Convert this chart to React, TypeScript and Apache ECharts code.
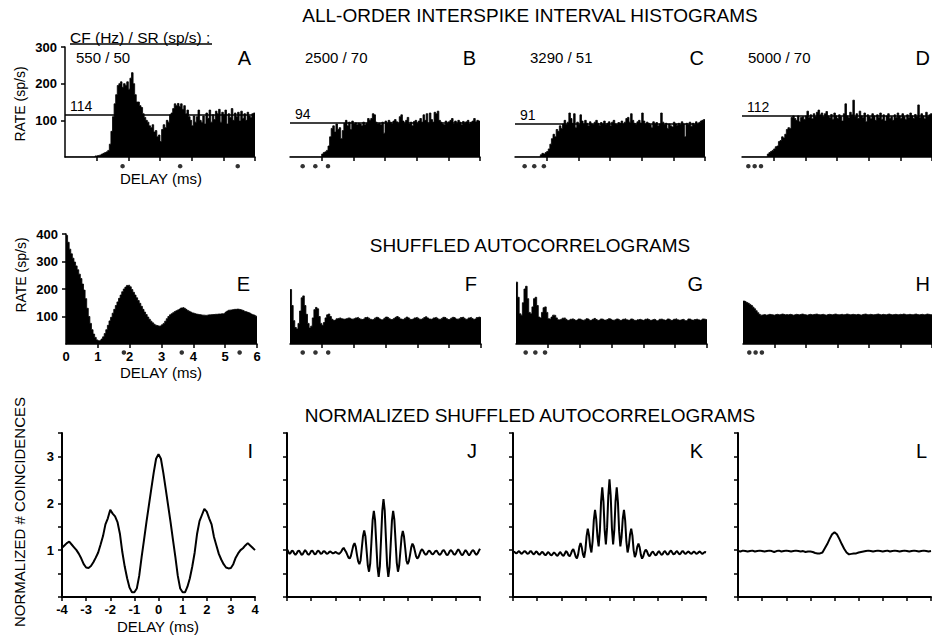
import React, { useEffect, useRef } from "react";
import * as echarts from "echarts";

const FONT = '"Liberation Sans", Arial, Helvetica, sans-serif';

// Fibre characteristics: CF (Hz) / spontaneous rate (sp/s) and mean ISI rate
const cfHz = [550, 2500, 3290, 5000];
const srSps = [50, 70, 51, 70];
const meanRate = [114, 94, 91, 112];
const panelLetters = [
  ["A", "B", "C", "D"],
  ["E", "F", "G", "H"],
  ["I", "J", "K", "L"],
];

const delayTicks = [1, 2, 3, 4, 5, 6];
const rateTicks = [100, 200, 300];
const sacRateTicks = [100, 200, 300, 400];
const coincidenceLabels = [1, 2, 3];

// All-order interspike interval histograms and shuffled autocorrelograms:
// 0.05 ms bins from 0 to 6 ms (sp/s)
const BIN = 0.05;
const isiA = [
  0, 0, 0, 0, 0, 0, 0, 0, 0, 0,
  0, 0, 0, 0, 0, 0, 0, 0, 0, 3,
  4, 5, 6, 8, 10, 12, 14, 18, 35, 70,
  110, 145, 170, 195, 200, 205, 190, 200, 195, 205,
  185, 215, 230, 200, 170, 150, 150, 140, 135, 118,
  108, 100, 95, 85, 80, 88, 68, 72, 55, 60,
  42, 75, 88, 80, 100, 95, 115, 120, 132, 145,
  140, 146, 138, 145, 130, 140, 118, 128, 110, 100,
  85, 112, 95, 110, 128, 100, 95, 112, 90, 120,
  105, 128, 95, 115, 102, 125, 118, 130, 95, 122,
  115, 128, 90, 118, 108, 132, 100, 120, 110, 122,
  98, 125, 105, 118, 100, 122, 112, 108, 118, 120,
];
const isiB = [
  0, 0, 0, 0, 0, 0, 0, 0, 0, 0,
  0, 0, 0, 0, 0, 0, 0, 0, 0, 0,
  8, 12, 14, 18, 30, 55, 78, 85, 68, 90,
  75, 80, 50, 72, 92, 100, 85, 95, 75, 98,
  90, 93, 88, 92, 90, 85, 95, 88, 92, 105,
  100, 105, 118, 115, 95, 90, 92, 88, 95, 65,
  98, 92, 100, 95, 90, 98, 102, 96, 92, 110,
  115, 98, 92, 100, 108, 90, 95, 85, 97, 100,
  92, 98, 105, 95, 115, 100, 118, 92, 120, 102,
  95, 122, 118, 125, 100, 95, 90, 88, 98, 92,
  96, 100, 105, 90, 98, 92, 100, 95, 88, 97,
  92, 96, 100, 90, 95, 98, 105, 96, 100, 98,
];
const isiC = [
  0, 0, 0, 0, 0, 0, 0, 0, 0, 0,
  0, 0, 0, 0, 0, 0, 6, 10, 8, 12,
  15, 22, 35, 50, 62, 55, 75, 70, 85, 78,
  90, 100, 88, 95, 120, 105, 92, 118, 80, 95,
  88, 115, 98, 90, 100, 92, 85, 96, 90, 88,
  95, 100, 92, 86, 94, 90, 98, 88, 92, 96,
  85, 95, 100, 90, 88, 94, 92, 98, 90, 95,
  105, 108, 95, 118, 100, 92, 88, 96, 100, 93,
  120, 98, 90, 95, 92, 88, 80, 96, 90, 94,
  85, 90, 120, 95, 88, 92, 78, 90, 85, 82,
  95, 90, 86, 92, 88, 96, 90, 55, 92, 88,
  95, 84, 92, 88, 96, 90, 94, 98, 100, 102,
];
const isiD = [
  0, 0, 0, 0, 0, 0, 0, 0, 0, 0,
  0, 0, 0, 0, 0, 0, 8, 12, 15, 18,
  22, 28, 30, 42, 45, 55, 52, 62, 75, 80,
  78, 108, 112, 105, 100, 112, 96, 108, 110, 102,
  112, 125, 108, 115, 104, 118, 110, 122, 128, 115,
  120, 110, 118, 124, 112, 108, 116, 102, 120, 112,
  105, 115, 110, 98, 118, 145, 112, 108, 122, 115,
  155, 110, 118, 105, 125, 112, 108, 120, 96, 115,
  110, 104, 118, 112, 100, 115, 108, 120, 102, 115,
  98, 112, 118, 105, 110, 100, 115, 108, 120, 112,
  105, 118, 110, 102, 115, 108, 120, 112, 105, 116,
  110, 142, 108, 118, 112, 104, 122, 110, 115, 118,
];

const sacE = [
  395, 370, 345, 328, 312, 298, 284, 270, 254, 238,
  218, 196, 165, 130, 100, 75, 52, 36, 24, 15,
  12, 13, 18, 26, 38, 52, 68, 84, 97, 112,
  126, 140, 153, 166, 178, 190, 200, 207, 213, 214,
  208, 198, 188, 178, 168, 158, 148, 137, 126, 116,
  107, 98, 90, 83, 77, 72, 68, 66, 65, 67,
  70, 75, 83, 92, 100, 106, 110, 114, 118, 121,
  124, 127, 131, 133, 130, 126, 122, 119, 116, 113,
  111, 109, 108, 107, 106, 105, 105, 104, 105, 106,
  106, 107, 107, 108, 108, 109, 109, 110, 110, 112,
  116, 120, 123, 124, 125, 126, 126, 127, 126, 125,
  123, 121, 118, 116, 114, 112, 109, 106, 104, 101,
];
const sacF = [
  198, 140, 85, 60, 55, 75, 120, 168, 175, 140,
  108, 75, 58, 65, 95, 125, 133, 128, 100, 75,
  68, 78, 95, 106, 109, 100, 90, 86, 88, 92,
  94, 95, 92, 90, 91, 93, 95, 94, 91, 89,
  92, 95, 97, 93, 90, 88, 91, 96, 98, 94,
  90, 88, 90, 94, 97, 95, 91, 88, 90, 94,
  98, 96, 92, 89, 90, 93, 97, 100, 96, 91,
  89, 91, 94, 98, 95, 90, 88, 91, 95, 97,
  94, 90, 89, 92, 96, 99, 95, 91, 90, 92,
  95, 97, 94, 90, 89, 93, 97, 96, 92, 89,
  91, 94, 97, 95, 91, 89, 92, 96, 98, 94,
  90, 91, 95, 97, 93, 90, 92, 96, 98, 96,
];
const sacG = [
  225, 170, 110, 105, 150, 200, 210, 165, 115, 110,
  135, 165, 170, 140, 98, 95, 115, 132, 135, 115,
  92, 90, 98, 105, 104, 95, 88, 87, 90, 94,
  95, 90, 86, 87, 90, 92, 89, 86, 88, 91,
  90, 87, 85, 88, 92, 90, 86, 87, 90, 93,
  89, 86, 88, 91, 90, 87, 86, 89, 92, 90,
  87, 85, 88, 91, 89, 86, 87, 90, 92, 88,
  86, 88, 91, 89, 86, 85, 88, 90, 88, 86,
  87, 90, 92, 89, 86, 88, 90, 88, 85, 87,
  90, 91, 88, 86, 88, 91, 89, 86, 87, 90,
  92, 88, 86, 88, 90, 88, 85, 87, 91, 90,
  87, 86, 89, 91, 88, 86, 88, 91, 90, 88,
];
const sacH = [
  156, 154, 151, 148, 144, 140, 134, 128, 121, 114,
  108, 105, 106, 107, 105, 106, 108, 107, 106, 105,
  107, 108, 106, 107, 109, 108, 106, 107, 106, 108,
  107, 105, 106, 108, 107, 106, 108, 109, 107, 106,
  105, 107, 108, 106, 107, 108, 109, 107, 106, 107,
  108, 106, 105, 107, 108, 107, 106, 108, 109, 107,
  106, 107, 108, 106, 107, 109, 108, 106, 107, 108,
  107, 106, 108, 107, 105, 107, 108, 109, 107, 106,
  108, 107, 106, 107, 108, 109, 107, 106, 108, 107,
  106, 108, 109, 107, 106, 107, 108, 107, 106, 108,
  107, 109, 108, 106, 107, 108, 107, 106, 108, 109,
  107, 106, 107, 108, 106, 107, 109, 108, 107, 106,
];

// Normalized shuffled autocorrelograms, delays from -4 ms
const nsacI = [
  1.05, 1.1, 1.15, 1.18, 1.12, 1.06, 1.0, 0.92, 0.82, 0.7,
  0.63, 0.62, 0.66, 0.74, 0.84, 0.95, 1.12, 1.3, 1.55, 1.68,
  1.86, 1.78, 1.72, 1.6, 1.35, 0.96, 0.65, 0.4, 0.2, 0.1,
  0.1, 0.18, 0.45, 0.85, 1.22, 1.6, 1.95, 2.3, 2.65, 2.95,
  3.05,
  2.95, 2.65, 2.3, 1.95, 1.6, 1.22, 0.85, 0.45, 0.18, 0.1,
  0.1, 0.22, 0.4, 0.65, 0.95, 1.35, 1.62, 1.75, 1.88, 1.82,
  1.68, 1.55, 1.28, 1.1, 0.92, 0.8, 0.7, 0.63, 0.61, 0.62,
  0.7, 0.84, 0.93, 1.0, 1.04, 1.1, 1.15, 1.1, 1.05, 1.0,
];
const nsacJ = [
  1.02, 0.97, 0.92, 0.94, 0.99, 0.98, 0.93, 0.9, 0.93, 0.98,
  0.99, 0.95, 0.9, 0.91, 0.96, 1.0, 0.97, 0.92, 0.9, 0.93,
  0.98, 0.99, 0.95, 0.91, 0.92, 0.97, 0.99, 0.96, 0.92, 0.93,
  0.97, 0.98, 0.95, 0.92, 0.93, 0.96, 0.97, 0.95, 0.93, 0.94,
  0.96, 0.95, 0.93, 0.92, 0.94, 0.97, 1.02, 1.05,
  1.0, 0.96, 0.9, 0.84, 0.82, 0.88, 0.99, 1.1, 1.15, 1.07,
  0.9, 0.76, 0.7, 0.78, 1.04, 1.3, 1.42, 1.3, 0.99, 0.67,
  0.54, 0.72, 1.18, 1.64, 1.84, 1.64, 1.15, 0.65, 0.43, 0.66,
  1.25, 1.84,
  2.09,
  1.85, 1.26, 0.67, 0.43, 0.64, 1.14, 1.63, 1.84, 1.65, 1.19,
  0.73, 0.54, 0.67, 0.98, 1.28, 1.41, 1.29, 1.04, 0.78, 0.7,
  0.76, 0.9, 1.06, 1.14, 1.09, 0.98, 0.87, 0.82, 0.85, 0.92,
  0.99, 1.02,
  0.98, 0.93, 0.9, 0.92, 0.97, 0.99, 0.96, 0.92, 0.91, 0.94,
  0.98, 0.99, 0.95, 0.91, 0.9, 0.94, 0.99, 1.0, 0.96, 0.91,
  0.89, 0.93, 0.98, 1.0, 0.97, 0.92, 0.9, 0.93, 0.98, 1.02,
  0.98, 0.93, 0.89, 0.91, 0.96, 1.0, 0.97, 0.92, 0.89, 0.92,
  0.97, 1.0, 0.98, 0.93, 0.9, 0.93, 0.98, 1.03,
];
const nsacK = [
  0.95, 0.97, 0.94, 0.93, 0.96, 0.98, 0.95, 0.92, 0.94, 0.97,
  0.98, 0.95, 0.92, 0.93, 0.97, 0.98, 0.94, 0.91, 0.93, 0.97,
  0.96, 0.92, 0.9, 0.93, 0.96, 0.95, 0.91, 0.89, 0.92, 0.96,
  0.94, 0.9, 0.89, 0.92, 0.95, 0.93, 0.89, 0.88, 0.92, 0.96,
  0.93, 0.89, 0.88, 0.93, 0.98, 0.95, 0.89, 0.87,
  0.92, 0.99, 1.02, 0.95, 0.86, 0.82, 0.91, 1.07, 1.15, 1.06,
  0.91, 0.84, 1.0, 1.3, 1.46, 1.32, 1.07, 0.95, 1.19, 1.64,
  1.86, 1.66, 1.29, 1.08, 1.41, 2.03, 2.34, 2.03, 1.42, 1.12,
  1.48, 2.15,
  2.51,
  2.16, 1.47, 1.12, 1.43, 2.04, 2.34, 2.02, 1.4, 1.08, 1.28,
  1.67, 1.86, 1.63, 1.18, 0.95, 1.08, 1.33, 1.46, 1.31, 1.0,
  0.85, 0.92, 1.07, 1.14, 1.06, 0.9, 0.82, 0.87, 0.96, 1.01,
  0.98, 0.91,
  0.87, 0.9, 0.95, 0.97, 0.93, 0.89, 0.9, 0.95, 0.98, 0.94,
  0.9, 0.91, 0.96, 0.98, 0.94, 0.9, 0.92, 0.97, 0.99, 0.95,
  0.91, 0.92, 0.96, 0.98, 0.94, 0.91, 0.93, 0.97, 0.98, 0.94,
  0.92, 0.94, 0.97, 0.96, 0.93, 0.92, 0.95, 0.97, 0.95, 0.92,
  0.93, 0.96, 0.97, 0.94, 0.92, 0.94, 0.96, 0.95,
];
const nsacL = [
  0.98, 0.97, 0.99, 0.98, 0.97, 0.98, 0.99, 0.97, 0.98, 0.99,
  0.98, 0.97, 0.98, 0.99, 0.98, 0.96, 0.98, 0.99, 0.97, 0.98,
  0.99, 0.98, 0.97, 0.98, 0.99, 0.98, 0.97, 0.98, 0.96, 0.97,
  0.97, 0.96, 0.94, 0.93, 0.93, 0.95, 1.04, 1.13, 1.24, 1.34,
  1.38,
  1.34, 1.24, 1.13, 1.03, 0.95, 0.91, 0.92, 0.93, 0.93, 0.95,
  0.96, 0.97, 0.98, 0.99, 0.98, 0.97, 0.98, 0.99, 0.98, 0.97,
  0.98, 0.99, 0.97, 0.98, 0.99, 0.98, 0.97, 0.98, 0.99, 0.98,
  0.97, 0.98, 0.99, 0.98, 0.97, 0.98, 0.99, 0.98, 0.97, 0.98,
];
const nsacSteps = [0.1, 0.05, 0.05, 0.1];

const isiSets = [isiA, isiB, isiC, isiD];
const sacSets = [sacE, sacF, sacG, sacH];
const nsacSets = [nsacI, nsacJ, nsacK, nsacL];

// Histogram bins as left-edge steps, closed at the right edge
const toSteps = (vals: number[], bin: number) => {
  const pts = vals.map((v, i) => [+(i * bin).toFixed(3), v]);
  pts.push([+(vals.length * bin).toFixed(3), vals[vals.length - 1]]);
  return pts;
};
const toLine = (vals: number[], start: number, step: number) =>
  vals.map((v, i) => [+(start + i * step).toFixed(3), v]);

const ROWS = [
  { top: 47, height: 110, lefts: [65, 290, 515, 742], width: 190, dotY: -25 },
  { top: 234, height: 110, lefts: [66, 290, 516, 743], width: 191, dotY: -31 },
  { top: 433, height: 164, lefts: [62, 287, 513, 738], width: 193, dotY: 0 },
];

const tickLabel = {
  color: "#000",
  fontSize: 13,
  fontWeight: "bold" as const,
  fontFamily: FONT,
};

function buildOption() {
  const grid: any[] = [];
  const xAxis: any[] = [];
  const yAxis: any[] = [];
  const series: any[] = [];

  ROWS.forEach((row, r) => {
    row.lefts.forEach((left, c) => {
      const idx = r * 4 + c;
      grid.push({ left, top: row.top, width: row.width, height: row.height });
      const axisW = r === 2 ? 2 : 1.5;
      const lineStyle = { color: "#000", width: axisW };
      const tickStyle = { color: "#000", width: 1.5 };

      xAxis.push({
        type: "value",
        gridIndex: idx,
        min: r === 2 ? -4 : 0,
        max: r === 2 ? 4 : 6,
        interval: 1,
        axisLine: { show: true, onZero: false, lineStyle },
        axisTick:
          r === 2
            ? { show: true, length: 4, lineStyle: tickStyle }
            : { show: true, length: 4, lineStyle: tickStyle, customValues: delayTicks },
        axisLabel: { show: c === 0 && r > 0, margin: 6, ...tickLabel },
        splitLine: { show: false },
      });

      const yMax = r === 0 ? 300 : r === 1 ? 400 : 3.5;
      const yInt = r === 2 ? 0.5 : 100;
      const yLabelVals = r === 0 ? rateTicks : r === 1 ? sacRateTicks : coincidenceLabels;
      yAxis.push({
        type: "value",
        gridIndex: idx,
        min: 0,
        max: yMax,
        interval: yInt,
        show: c === 0 || r === 2,
        axisLine: { show: true, onZero: false, lineStyle },
        axisTick:
          r === 2
            ? { show: true, length: 4, lineStyle: tickStyle }
            : { show: true, length: 4, lineStyle: tickStyle, customValues: yLabelVals },
        axisLabel: {
          show: c === 0,
          margin: 8,
          ...tickLabel,
          formatter: (v: number) => (yLabelVals.indexOf(v) >= 0 ? String(v) : ""),
        },
        splitLine: { show: false },
      });

      if (r < 2) {
        const vals = r === 0 ? isiSets[c] : sacSets[c];
        const hist: any = {
          type: "line",
          xAxisIndex: idx,
          yAxisIndex: idx,
          data: toSteps(vals, BIN),
          step: "end",
          symbol: "none",
          silent: true,
          lineStyle: { color: "#000", width: 0.8 },
          areaStyle: { color: "#000", opacity: 1 },
          z: 2,
        };
        if (r === 0) {
          hist.markLine = {
            silent: true,
            symbol: ["none", "none"],
            data: [{ yAxis: meanRate[c] }],
            lineStyle: { color: "#000", width: 1.5, type: "solid" },
            label: {
              show: true,
              position: "insideStartTop",
              formatter: () => String(meanRate[c]),
              color: "#000",
              fontSize: 14,
              fontFamily: FONT,
              distance: [5, 2],
            },
          };
        }
        series.push(hist);
        // dots at multiples of the CF period
        const periodMs = 1000 / cfHz[c];
        series.push({
          type: "scatter",
          xAxisIndex: idx,
          yAxisIndex: idx,
          clip: false,
          silent: true,
          symbol: "circle",
          symbolSize: 4.5,
          itemStyle: { color: "#000" },
          data: [1, 2, 3].map((k) => [k * periodMs, row.dotY]),
          z: 3,
        });
      } else {
        series.push({
          type: "line",
          xAxisIndex: idx,
          yAxisIndex: idx,
          data: toLine(nsacSets[c], -4, nsacSteps[c]),
          symbol: "none",
          silent: true,
          lineStyle: { color: "#000", width: 2 },
          z: 2,
        });
      }
    });
  });

  const text = (
    x: number,
    y: number,
    t: string,
    size: number,
    align = "left",
    rotation = 0
  ) => ({
    type: "text",
    x,
    y,
    rotation,
    silent: true,
    style: {
      text: t,
      fontSize: size,
      fontFamily: FONT,
      fill: "#000",
      align,
      verticalAlign: "middle",
    },
  });

  const letterX = [
    [251, 476, 704, 930],
    [250, 477, 703, 930],
    [253, 477, 703, 927],
  ];
  const letterY = [58, 284, 451];
  const infoX = [76, 305, 530, 748];

  const graphic: any[] = [
    text(530, 15.5, "ALL-ORDER INTERSPIKE INTERVAL HISTOGRAMS", 19, "center"),
    text(530, 245.5, "SHUFFLED AUTOCORRELOGRAMS", 19, "center"),
    text(530, 415.5, "NORMALIZED SHUFFLED AUTOCORRELOGRAMS", 19, "center"),
    text(70, 37, "CF (Hz) / SR (sp/s) :", 15.5),
    {
      type: "line",
      silent: true,
      shape: { x1: 70, y1: 44, x2: 212, y2: 44 },
      style: { stroke: "#000", lineWidth: 1.5 },
    },
    text(161, 178.5, "DELAY (ms)", 15, "center"),
    text(161, 372, "DELAY (ms)", 15, "center"),
    text(158, 626, "DELAY (ms)", 15, "center"),
    text(19.5, 104, "RATE (sp/s)", 14, "center", Math.PI / 2),
    text(21, 275, "RATE (sp/s)", 14, "center", Math.PI / 2),
    text(19, 512, "NORMALIZED # COINCIDENCES", 15, "center", Math.PI / 2),
  ];
  cfHz.forEach((cf, c) => {
    graphic.push(text(infoX[c], 57.5, `${cf} / ${srSps[c]}`, 15));
  });
  panelLetters.forEach((rowLetters, r) =>
    rowLetters.forEach((L, c) => {
      graphic.push(text(letterX[r][c], letterY[r], L, 20, "right"));
    })
  );

  return {
    animation: false,
    backgroundColor: "#fff",
    textStyle: { fontFamily: FONT },
    grid,
    xAxis,
    yAxis,
    series,
    graphic,
  };
}

export default function App() {
  const ref = useRef<HTMLDivElement>(null);
  useEffect(() => {
    document.body.style.margin = "0";
    if (!ref.current) return;
    const chart = echarts.init(ref.current, null, { renderer: "svg" });
    chart.setOption(buildOption() as any);
    return () => chart.dispose();
  }, []);
  return <div ref={ref} style={{ width: 932, height: 638 }} />;
}
